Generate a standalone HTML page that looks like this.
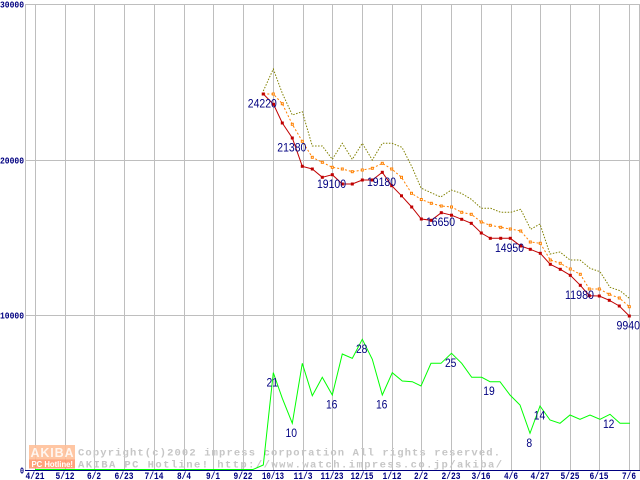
<!DOCTYPE html>
<html><head><meta charset="utf-8"><style>
html,body{margin:0;padding:0;background:#fff;}
svg{display:block;}
.ax{font-family:"Liberation Mono",monospace;font-weight:bold;font-size:9px;fill:#000080;}
.axx{font-family:"Liberation Mono",monospace;font-weight:bold;font-size:10px;fill:#000080;}
.lb{font-family:"Liberation Sans",sans-serif;font-size:12px;fill:#000080;}
.wm{font-family:"Liberation Mono",monospace;font-weight:bold;font-size:10.5px;fill:#c6c6c6;}
</style></head><body>
<svg width="640" height="480" viewBox="0 0 640 480" xmlns="http://www.w3.org/2000/svg">
<defs>
<marker id="mr" markerWidth="4" markerHeight="4" refX="2" refY="2" markerUnits="userSpaceOnUse" overflow="visible"><rect x="0.5" y="0.5" width="3" height="3" fill="#c00000"/></marker>
<marker id="mo" markerWidth="4" markerHeight="4" refX="2" refY="2" markerUnits="userSpaceOnUse" overflow="visible"><rect x="1" y="1" width="2" height="2" fill="#fff" stroke="#ff8000" stroke-width="1"/></marker>
</defs>
<rect width="640" height="480" fill="#fff"/>
<!-- grid -->
<g stroke="#bebebe" stroke-width="1" shape-rendering="crispEdges">
<line x1="25" y1="4.5" x2="640" y2="4.5"/>
<line x1="25" y1="160.5" x2="640" y2="160.5"/>
<line x1="25" y1="315.5" x2="640" y2="315.5"/>
<line x1="25.5" y1="4" x2="25.5" y2="470"/>
<line x1="35.5" y1="4" x2="35.5" y2="470"/>
<line x1="65.5" y1="4" x2="65.5" y2="470"/>
<line x1="94.5" y1="4" x2="94.5" y2="470"/>
<line x1="124.5" y1="4" x2="124.5" y2="470"/>
<line x1="154.5" y1="4" x2="154.5" y2="470"/>
<line x1="184.5" y1="4" x2="184.5" y2="470"/>
<line x1="213.5" y1="4" x2="213.5" y2="470"/>
<line x1="243.5" y1="4" x2="243.5" y2="470"/>
<line x1="273.5" y1="4" x2="273.5" y2="470"/>
<line x1="303.5" y1="4" x2="303.5" y2="470"/>
<line x1="332.5" y1="4" x2="332.5" y2="470"/>
<line x1="362.5" y1="4" x2="362.5" y2="470"/>
<line x1="392.5" y1="4" x2="392.5" y2="470"/>
<line x1="421.5" y1="4" x2="421.5" y2="470"/>
<line x1="451.5" y1="4" x2="451.5" y2="470"/>
<line x1="481.5" y1="4" x2="481.5" y2="470"/>
<line x1="511.5" y1="4" x2="511.5" y2="470"/>
<line x1="540.5" y1="4" x2="540.5" y2="470"/>
<line x1="570.5" y1="4" x2="570.5" y2="470"/>
<line x1="599.5" y1="4" x2="599.5" y2="470"/>
<line x1="629.5" y1="4" x2="629.5" y2="470"/>
<line x1="639.5" y1="4" x2="639.5" y2="470"/>
</g>
<line x1="25" y1="470.5" x2="640" y2="470.5" stroke="#000080" stroke-width="1" shape-rendering="crispEdges"/>
<!-- watermark -->
<g opacity="0.9">
<rect x="29" y="445" width="46" height="15" fill="#ffc09a"/>
<rect x="29" y="459.5" width="46" height="9" fill="#ff9a70"/>
<text x="30.5" y="457" font-family="Liberation Sans,sans-serif" font-weight="bold" font-size="12.5" fill="#fff6ef" textLength="43" lengthAdjust="spacing">AKIBA</text>
<text x="31.5" y="467" font-family="Liberation Sans,sans-serif" font-weight="bold" font-size="8" fill="#fff" textLength="41.5" lengthAdjust="spacingAndGlyphs">PC Hotline!</text>
</g>
<text class="wm" x="78" y="455.5" textLength="422" lengthAdjust="spacing">Copyright(c)2002 impress corporation All rights reserved.</text>
<text class="wm" x="78" y="467.5" textLength="424" lengthAdjust="spacing">AKIBA PC Hotline! http://www.watch.impress.co.jp/akiba/</text>
<!-- axis labels -->
<text class="ax" x="0" y="7.5" textLength="24" lengthAdjust="spacingAndGlyphs">30000</text>
<text class="ax" x="0" y="163.5" textLength="24" lengthAdjust="spacingAndGlyphs">20000</text>
<text class="ax" x="0" y="318.5" textLength="24" lengthAdjust="spacingAndGlyphs">10000</text>
<text class="ax" x="20" y="473.5" textLength="4" lengthAdjust="spacingAndGlyphs">0</text>
<g class="axx" text-anchor="middle">
<text x="35" y="479" textLength="19" lengthAdjust="spacingAndGlyphs">4/21</text>
<text x="65" y="479" textLength="19" lengthAdjust="spacingAndGlyphs">5/12</text>
<text x="94" y="479" textLength="14" lengthAdjust="spacingAndGlyphs">6/2</text>
<text x="124" y="479" textLength="19" lengthAdjust="spacingAndGlyphs">6/23</text>
<text x="154" y="479" textLength="19" lengthAdjust="spacingAndGlyphs">7/14</text>
<text x="184" y="479" textLength="14" lengthAdjust="spacingAndGlyphs">8/4</text>
<text x="213" y="479" textLength="14" lengthAdjust="spacingAndGlyphs">9/1</text>
<text x="243" y="479" textLength="19" lengthAdjust="spacingAndGlyphs">9/22</text>
<text x="273" y="479" textLength="22" lengthAdjust="spacingAndGlyphs">10/13</text>
<text x="303" y="479" textLength="19" lengthAdjust="spacingAndGlyphs">11/3</text>
<text x="332" y="479" textLength="23" lengthAdjust="spacingAndGlyphs">11/23</text>
<text x="362" y="479" textLength="23" lengthAdjust="spacingAndGlyphs">12/15</text>
<text x="392" y="479" textLength="19" lengthAdjust="spacingAndGlyphs">1/12</text>
<text x="421" y="479" textLength="14" lengthAdjust="spacingAndGlyphs">2/2</text>
<text x="451" y="479" textLength="19" lengthAdjust="spacingAndGlyphs">2/23</text>
<text x="481" y="479" textLength="19" lengthAdjust="spacingAndGlyphs">3/16</text>
<text x="511" y="479" textLength="14" lengthAdjust="spacingAndGlyphs">4/6</text>
<text x="540" y="479" textLength="19" lengthAdjust="spacingAndGlyphs">4/27</text>
<text x="570" y="479" textLength="19" lengthAdjust="spacingAndGlyphs">5/25</text>
<text x="599" y="479" textLength="19" lengthAdjust="spacingAndGlyphs">6/15</text>
<text x="629" y="479" textLength="14" lengthAdjust="spacingAndGlyphs">7/6</text>
</g>
<!-- series -->
<polyline fill="none" stroke="#00ff00" stroke-width="1" points="35,469.5 253,469.5 263.3,465 273.3,372.7 282.3,398.3 292.3,423.3 302.3,363.3 312.3,395.7 322.3,377.3 332.3,395 342.3,354 352.3,358.3 362.3,339.3 372.3,359.3 382.3,395 392.3,372.7 402.3,381 412.3,381.7 421,386 431,363.3 441,363.3 451.5,353.3 461.7,363.3 471.7,377.3 481.7,377.3 490,381.7 500,381.7 510,395 520,405 530,433.3 540,406 550,420 560,423.3 570,415 580,419.3 590,415 600,419.3 610,414.3 620,423.3 630,423.3"/>
<polyline fill="none" stroke="#808000" stroke-width="1" stroke-dasharray="1.5,1.5" points="263.3,91 273.3,69 282.3,93.3 292.3,115 302.3,111.7 312.3,146 322.3,146 332.3,159.3 342.3,143.3 352.3,159.3 362.3,143.3 372.3,160 382.3,143.3 392,143.3 402,147.3 412,167 421,188 430.5,192.5 440.7,197 451.3,190 461.3,193.3 471.3,199.3 481.3,208.3 490.7,208.3 500.7,212.3 510.7,212.3 520.7,209.3 530.7,229.3 540,224 550,254 560,252 570,260 580,260 590,268.3 600,271.7 610,287.3 620,290.7 629.3,298.3"/>
<polyline fill="none" stroke="#ff8000" stroke-width="1" stroke-dasharray="2,2" marker-start="url(#mo)" marker-mid="url(#mo)" marker-end="url(#mo)" points="263.3,94 273.3,94 282.3,103.7 292.3,124.3 302.3,141.3 312.3,157.3 322.3,162.3 332.3,167.3 342.3,169 352.3,171.7 362.3,170 372.3,168.3 382.3,163.3 391.7,169 401.5,177.3 411.5,193.3 421.3,199.5 431.3,203.3 441.3,206 451.5,207 461.7,212.3 471.3,214.3 481.3,222 490.3,225.3 500.7,227.3 510.3,229 520.7,231 530.3,242 540.3,243.3 550.3,260 560.3,263.3 570.3,269 580.3,274.3 589.3,289 599.3,289 609.3,294.3 619.3,298 629.3,306.7"/>
<polyline fill="none" stroke="#c00000" stroke-width="1" marker-start="url(#mr)" marker-mid="url(#mr)" marker-end="url(#mr)" points="263.3,94 273.5,104.3 282.3,123 292.3,138 302.3,166.3 312.3,169 322.3,177.3 332.3,174.7 342.3,184 352.3,184 362.3,180 372.3,180 382.3,172.3 391.7,185.7 401.5,195.8 411.7,207 421.3,219 431.3,220.3 441.3,212.7 451.5,215.2 461.7,219.3 471.3,223.3 481.3,233 490.3,238.3 500.7,238.3 510.3,238.3 520.7,246 530.3,249.3 540.3,253.3 550.3,264.3 560.3,269.3 570.3,275.3 580.3,285.3 589.3,295.7 599.3,296 609.3,300.3 619.3,306 629.3,316"/>
<!-- value labels -->
<g class="lb" text-anchor="middle">
<text x="262.3" y="107.5" textLength="29" lengthAdjust="spacingAndGlyphs">24220</text>
<text x="291.8" y="151.5" textLength="29" lengthAdjust="spacingAndGlyphs">21380</text>
<text x="331.5" y="188" textLength="29" lengthAdjust="spacingAndGlyphs">19100</text>
<text x="381.5" y="185.8" textLength="29" lengthAdjust="spacingAndGlyphs">19180</text>
<text x="440.5" y="226.2" textLength="29" lengthAdjust="spacingAndGlyphs">16650</text>
<text x="509.5" y="251.8" textLength="29" lengthAdjust="spacingAndGlyphs">14950</text>
<text x="579.5" y="298.8" textLength="29" lengthAdjust="spacingAndGlyphs">11980</text>
<text x="628.3" y="329.5" textLength="23.5" lengthAdjust="spacingAndGlyphs">9940</text>
<text x="272.3" y="386.5" textLength="11.5" lengthAdjust="spacingAndGlyphs">21</text>
<text x="291.3" y="436.8" textLength="11.5" lengthAdjust="spacingAndGlyphs">10</text>
<text x="331.7" y="408.5" textLength="11.5" lengthAdjust="spacingAndGlyphs">16</text>
<text x="361.7" y="352.8" textLength="11.5" lengthAdjust="spacingAndGlyphs">28</text>
<text x="381.7" y="408.5" textLength="11.5" lengthAdjust="spacingAndGlyphs">16</text>
<text x="450.7" y="366.8" textLength="11.5" lengthAdjust="spacingAndGlyphs">25</text>
<text x="489" y="395.2" textLength="11.5" lengthAdjust="spacingAndGlyphs">19</text>
<text x="529.3" y="446.8" textLength="5.8" lengthAdjust="spacingAndGlyphs">8</text>
<text x="539.5" y="419.5" textLength="11.5" lengthAdjust="spacingAndGlyphs">14</text>
<text x="608.7" y="427.8" textLength="11.5" lengthAdjust="spacingAndGlyphs">12</text>
</g>
</svg>
</body></html>
